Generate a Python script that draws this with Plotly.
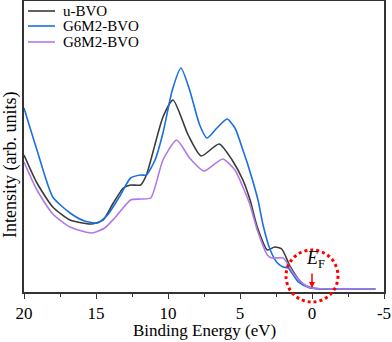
import plotly.graph_objects as go

# Binding energy (eV) and intensity (arb. units)
u_E = [20, 19.1, 18.0, 16.8, 15.3, 14.5, 13.8, 13.1, 12.6, 11.9, 11.5, 10.35, 9.65, 8.6, 7.7, 6.45, 5.55, 4.8, 4.3, 3.8, 3.1, 2.6, 2.1, 1.5, 0.7, 0.0, -4.4]
u_I = [137, 109, 85, 72, 68, 72, 89, 104, 107, 107, 117, 175, 192, 157, 136, 148, 132, 112, 92, 65, 42, 45, 43, 25, 9, 4, 3]

g6_E = [20, 19.1, 18.0, 16.8, 15.8, 14.9, 14.2, 13.3, 12.6, 11.9, 11.5, 10.9, 10.35, 9.7, 9.1, 8.5, 7.8, 7.3, 6.6, 5.9, 5.35, 4.8, 4.45, 3.75, 3.4, 2.9, 2.4, 2.0, 1.65, 0.95, 0.15, -4.4]
g6_I = [184, 142, 95, 79, 71, 69, 77, 97, 114, 117, 117, 132, 159, 202, 224, 202, 167, 154, 164, 173, 164, 142, 127, 92, 67, 42, 29, 25, 24, 10, 4, 3]

g8_E = [20, 19.1, 18.0, 16.8, 15.3, 14.4, 13.7, 12.6, 11.9, 11.2, 10.35, 9.4, 8.5, 7.5, 6.2, 5.35, 4.8, 4.3, 3.8, 3.1, 2.8, 2.0, 1.3, 0.5, 0.0, -4.4]
g8_I = [130, 102, 78, 65, 59, 64, 74, 92, 93, 94, 132, 152, 134, 121, 133, 122, 105, 87, 62, 37, 34, 34, 19, 7, 4, 3]

x_tickvals = [20, 15, 10, 5, 0, -5]
x_ticktext = ["20", "15", "10", "5", "0", "-5"]

series = [
    ("u-BVO", u_E, u_I, "#3a3a3a"),
    ("G6M2-BVO", g6_E, g6_I, "#1a6fe0"),
    ("G8M2-BVO", g8_E, g8_I, "#b07ae6"),
]

L, R, T, B = 24, 8, 1, 50
FW, FH = 392, 342
W = FW - L - R
H = FH - T - B


def px(xp):
    return (xp - L) / W


def py(yp):
    return (FH - B - yp) / H


fig = go.Figure()
for name, xs, ys, col in series:
    fig.add_trace(go.Scatter(x=xs, y=ys, name=name, mode="lines", showlegend=False,
                             line=dict(color=col, width=1.6, shape="spline", smoothing=0.6)))

font_fam = "Times New Roman"

fig.update_layout(
    width=FW, height=FH,
    margin=dict(l=L, r=R, t=T, b=B, autoexpand=False),
    paper_bgcolor="white", plot_bgcolor="white",
    font=dict(family=font_fam, size=15, color="black"),
    xaxis=dict(range=[20, -5], tickvals=x_tickvals, ticktext=x_ticktext,
               ticks="outside", ticklen=5, tickwidth=1.2, tickcolor="#333",
               minor=dict(ticks="outside", dtick=2.5, ticklen=3, tickwidth=1.2, tickcolor="#333"),
               showline=True, linecolor="#333", linewidth=1.5, mirror=True,
               showgrid=False, zeroline=False, automargin=False,
               ticklabelstandoff=0,
               tickfont=dict(family=font_fam, size=17)),
    yaxis=dict(range=[0, 291], showticklabels=False, ticks="",
               showline=True, linecolor="#333", linewidth=1.5, mirror=True,
               showgrid=False, zeroline=False, automargin=False),
)

# axis titles placed as in the reference
fig.add_annotation(xref="paper", yref="paper", x=px(204), y=py(341), text="Binding Energy (eV)",
                   showarrow=False, xanchor="center", yanchor="bottom", borderpad=0,
                   font=dict(family=font_fam, size=17, color="black"))
fig.add_annotation(xref="paper", yref="paper", x=px(10), y=py(165), text="Intensity (arb. units)",
                   textangle=-90, showarrow=False, xanchor="center", yanchor="middle",
                   font=dict(family=font_fam, size=18, color="black"))

# legend drawn by hand to match the tight row spacing
row_y = [11, 26, 42]
for (name, _, _, col), ry in zip(series, row_y):
    fig.add_shape(type="line", xref="paper", yref="paper", x0=px(28), x1=px(55),
                  y0=py(ry), y1=py(ry), line=dict(color=col, width=1.6))
    fig.add_annotation(xref="paper", yref="paper", x=px(61), y=py(ry), text=name,
                       showarrow=False, xanchor="left", yanchor="middle",
                       font=dict(family=font_fam, size=15, color="black"))

# E_F marker
fig.add_annotation(x=0, y=4, ax=0, ay=-16, axref="pixel", ayref="pixel",
                   showarrow=True, arrowhead=2, arrowsize=0.8, arrowwidth=1.5, arrowcolor="red",
                   text="")
fig.add_annotation(x=0, y=19, text="<i>E</i><sub>F</sub>", showarrow=False,
                   xanchor="center", yanchor="bottom", xshift=3,
                   font=dict(family=font_fam, size=18, color="black"))
# dotted circle (paper coords, allowed to go below the axis)
cx, cy, r = 312, 276, 26
fig.add_shape(type="circle", xref="paper", yref="paper",
              x0=px(cx - r), x1=px(cx + r), y0=py(cy + r), y1=py(cy - r),
              line=dict(color="red", width=3, dash="dot"))

fig.write_html("out.html", config={"displayModeBar": False},
               post_script="document.body.style.margin='0';")
